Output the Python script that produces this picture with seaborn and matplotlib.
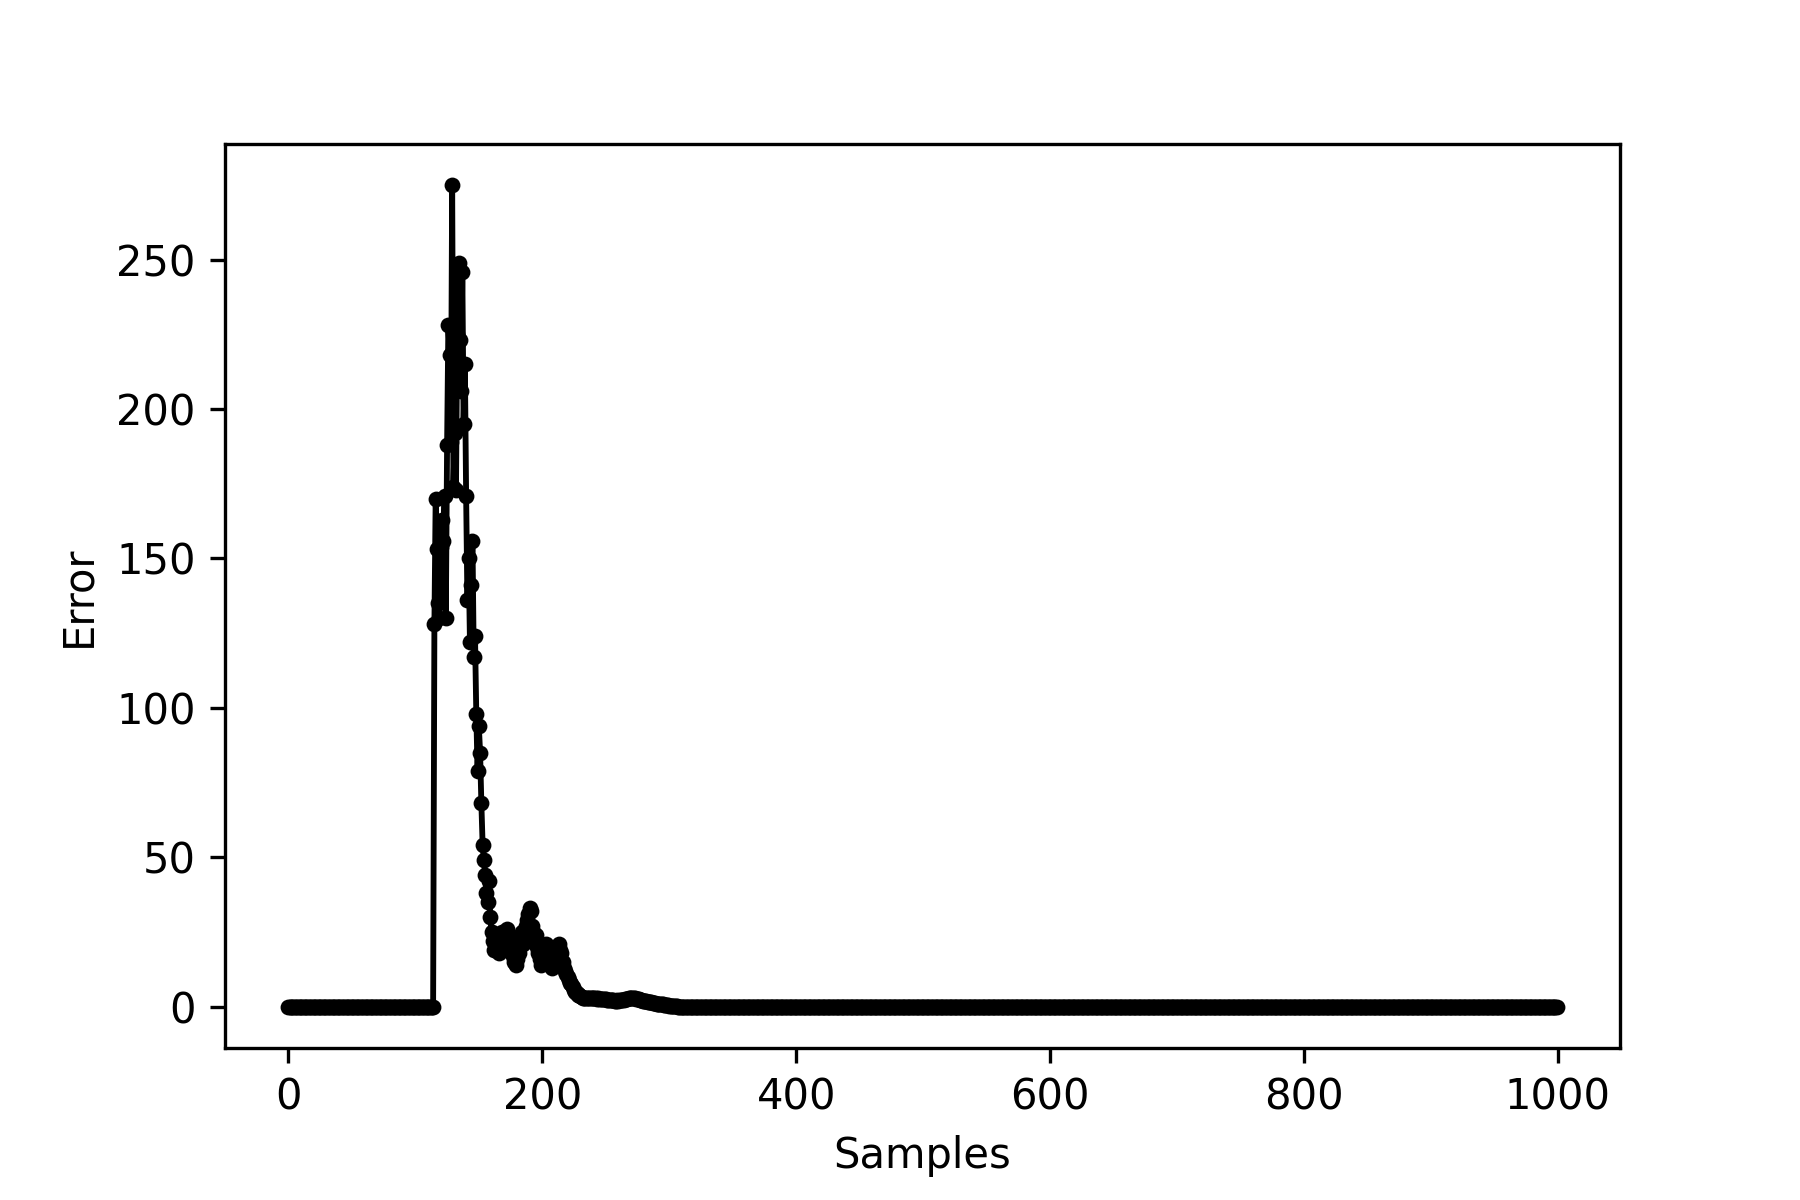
import seaborn as sns
import matplotlib
matplotlib.use('Agg')
import matplotlib.pyplot as plt
import pandas as pd
import numpy as np

# error per sample; zero before the burst and after it has settled
n_samples = 1000
onset = 115
burst = [128, 170, 153, 135, 130, 154, 163, 156, 171, 130,
         188, 228, 218, 189, 275, 174, 192, 173, 225, 249,
         223, 206, 246, 195, 215, 171, 136, 150, 122, 141,
         156, 117, 124, 98, 79, 94, 85, 68, 54, 49,
         44, 38, 35, 42, 30, 25, 22, 19, 21, 24,
         20, 18, 22, 25, 23, 20, 24, 26, 22, 19,
         23, 20, 17, 15, 14, 16, 20, 18, 22, 25,
         21, 24, 27, 29, 31, 33, 32, 27, 25, 22,
         24, 20, 18, 16, 14, 15, 19, 17, 21, 20,
         18, 16, 14, 13, 16, 19, 17, 20, 21, 19,
         18, 15]
tail = [13, 12, 11, 10, 9, 8, 7.5, 6.5, 5.5, 5, 4.5, 4, 3.7, 3.4, 3.2, 3.0, 3.0,
        2.9, 2.9, 2.8, 2.8, 2.9, 2.8, 2.7, 2.8, 2.7, 2.6, 2.7, 2.6, 2.5, 2.6, 2.5, 2.4,
        2.4, 2.3, 2.3, 2.2, 2.2, 2.1, 2.1, 2.0, 2.0, 2.1, 2.0, 2.1, 2.2, 2.2, 2.3,
        2.4, 2.5, 2.6, 2.7, 2.8, 2.8, 2.9, 2.8, 2.7, 2.6, 2.5, 2.4, 2.2, 2.1, 2.0,
        1.9, 1.8, 1.7, 1.6, 1.5, 1.5, 1.4, 1.3, 1.2, 1.1, 1.0, 1.0, 0.9, 0.8, 0.8,
        0.7, 0.6, 0.5, 0.5, 0.4,
        0.3, 0.3, 0.2, 0.2, 0.1, 0.1, 0.05]

active = burst + tail
error = np.zeros(n_samples)
error[onset:onset + len(active)] = active
df = pd.DataFrame({'Samples': np.arange(n_samples), 'Error': error})

fig, ax = plt.subplots(figsize=(6, 4), dpi=300)
sns.lineplot(data=df, x='Samples', y='Error', ax=ax, color='k',
             marker='o', markersize=3.8, mec='k', mew=0, linewidth=1.4)
ax.set_xlabel('Samples')
ax.set_ylabel('Error')
fig.subplots_adjust(left=0.125, right=0.9, top=0.88, bottom=0.127)
fig.savefig('out.png', dpi=300)
